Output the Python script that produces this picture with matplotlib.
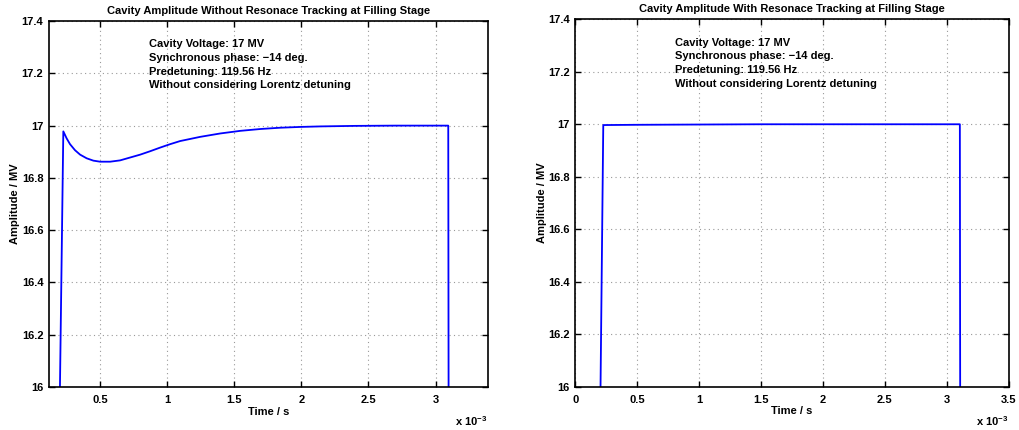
import numpy as np
import matplotlib
matplotlib.use('Agg')
import matplotlib.pyplot as plt

plt.rcParams['font.family'] = ['Liberation Sans', 'DejaVu Sans']
plt.rcParams['font.weight'] = 'bold'

# time in ms (axis shows x 10^-3 s), amplitude in MV
t_without = [0.195, 0.226, 0.251, 0.276, 0.313, 0.351, 0.40, 0.45, 0.50, 0.575, 0.649,
             0.724, 0.799, 0.873, 0.948, 1.022, 1.097, 1.246, 1.396, 1.545, 1.694,
             1.843, 1.993, 2.142, 2.40, 2.70, 3.00, 3.095, 3.10]
v_without = [15.77, 16.978, 16.951, 16.929, 16.906, 16.889, 16.875, 16.866, 16.862, 16.862, 16.867,
             16.878, 16.889, 16.902, 16.916, 16.929, 16.941, 16.957, 16.970, 16.980, 16.987,
             16.992, 16.995, 16.997, 16.999, 17.0, 17.0, 17.0, 15.0]

t_with = [0.195, 0.226, 0.5, 1.0, 1.5, 2.0, 2.5, 3.0, 3.105, 3.11]
v_with = [15.6, 16.997, 16.998, 16.999, 17.0, 17.0, 17.0, 17.0, 17.0, 15.0]

titles = ['Cavity Amplitude Without Resonace Tracking at Filling Stage',
          'Cavity Amplitude With Resonace Tracking at Filling Stage']
info = ('Cavity Voltage: 17 MV\nSynchronous phase: \u221214 deg.\n'
        'Predetuning: 119.56 Hz\nWithout considering Lorentz detuning')

fig = plt.figure(figsize=(10.2, 4.3), dpi=100)
ax1 = fig.add_axes([0.048, 0.100, 0.430, 0.851])
ax2 = fig.add_axes([0.564, 0.101, 0.425, 0.854])

setups = [(ax1, t_without, v_without, (0.119, 3.388), [0.5, 1, 1.5, 2, 2.5, 3], 0.229),
          (ax2, t_with, v_with, (0, 3.5), [0, 0.5, 1, 1.5, 2, 2.5, 3, 3.5], 0.231)]

for i, (ax, t, v, xl, xt, tx) in enumerate(setups):
    ax.plot(t, v, color='#0000ff', lw=1.3)
    ax.set_xlim(*xl)
    ax.set_ylim(16, 17.4)
    ax.set_xticks(xt)
    ax.set_xticklabels([('%g' % x) for x in xt])
    ax.set_yticks([16, 16.2, 16.4, 16.6, 16.8, 17, 17.2, 17.4])
    ax.set_yticklabels(['16', '16.2', '16.4', '16.6', '16.8', '17', '17.2', '17.4'])
    ax.grid(True, linestyle=(0, (1, 3)), color='#999999', lw=0.8)
    ax.tick_params(direction='in', labelsize=8, length=4, width=1, pad=4,
                   top=True, right=True)
    ax.tick_params(axis='x', pad=6)
    for s in ax.spines.values():
        s.set_linewidth(1.2)
    ax.set_title(titles[i], fontsize=8, fontweight='bold', pad=5)
    ax.set_xlabel('Time / s', fontsize=8, fontweight='bold', labelpad=1)
    ax.set_ylabel('Amplitude / MV', fontsize=8, fontweight='bold', labelpad=1)
    ax.text(tx, 0.95, info, transform=ax.transAxes, fontsize=8, fontweight='bold',
            va='top', ha='left', linespacing=1.45)
    ax.text(1.0, -0.075, r'x 10$^{\mathregular{-3}}$', transform=ax.transAxes,
            fontsize=8, fontweight='bold', ha='right', va='top')

fig.savefig('out.png', dpi=100)
